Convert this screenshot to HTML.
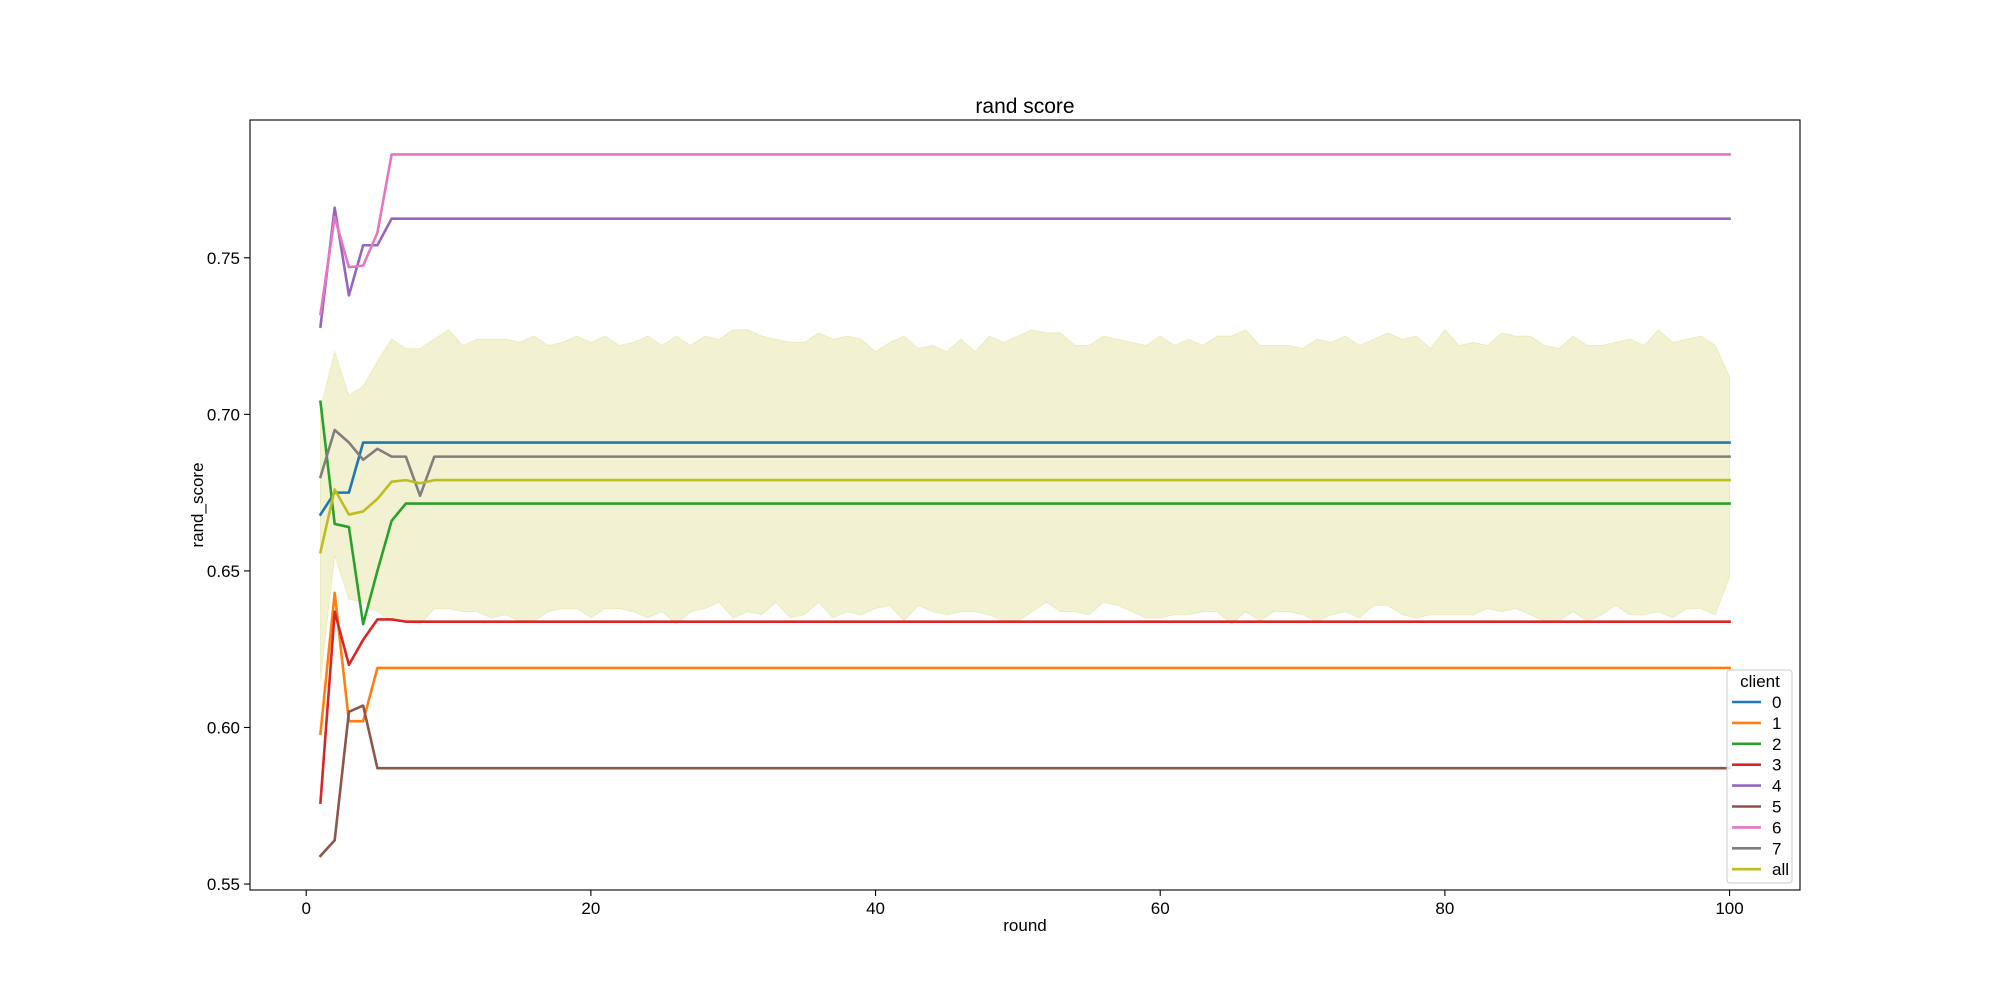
<!DOCTYPE html>
<html><head><meta charset="utf-8"><style>
body{margin:0;background:#fff}
svg{display:block;font-family:"Liberation Sans","DejaVu Sans",sans-serif}
</style></head><body>
<svg id="chart" width="2000" height="1000" viewBox="0 0 2000 1000">
<rect width="2000" height="1000" fill="#fff"/>
<text x="1025" y="113" font-size="21" text-anchor="middle">rand score</text>
<g id="band"></g>
<g id="lines"></g>
<g id="axes"></g>
<text x="1025" y="931" font-size="17" text-anchor="middle">round</text>
<text x="0" y="0" font-size="17" text-anchor="middle" transform="translate(203,505) rotate(-90)">rand_score</text>
<g id="legend"></g>
</svg>
<script>
const xTicks = [0, 20, 40, 60, 80, 100];
const yTicks = [0.55, 0.60, 0.65, 0.70, 0.75];
const yTickLabels = ["0.55", "0.60", "0.65", "0.70", "0.75"];
const seriesNames = ["0", "1", "2", "3", "4", "5", "6", "7", "all"];
const seriesColors = ["#1f77b4","#ff7f0e","#2ca02c","#d62728","#9467bd","#8c564b","#e377c2","#7f7f7f","#bcbd22"];
const r0 = [1,2,3,4,100];
const v0 = [0.668,0.675,0.675,0.691,0.691];
const r1 = [1,2,3,4,5,100];
const v1 = [0.598,0.643,0.602,0.602,0.619,0.619];
const r2 = [1,2,3,4,5,6,7,100];
const v2 = [0.704,0.665,0.664,0.633,0.650,0.666,0.6715,0.6715];
const r3 = [1,2,3,4,5,6,7,100];
const v3 = [0.576,0.637,0.620,0.628,0.6345,0.6345,0.6338,0.6338];
const r4 = [1,2,3,4,5,6,100];
const v4 = [0.728,0.766,0.738,0.754,0.754,0.7625,0.7625];
const r5 = [1,2,3,4,5,100];
const v5 = [0.559,0.564,0.605,0.607,0.587,0.587];
const r6 = [1,2,3,4,5,6,100];
const v6 = [0.732,0.763,0.747,0.7475,0.758,0.783,0.783];
const r7 = [1,2,3,4,5,6,7,8,9,100];
const v7 = [0.680,0.695,0.691,0.6855,0.689,0.6865,0.6865,0.674,0.6865,0.6865];
const rAll = [1,2,3,4,5,6,7,8,9,100];
const vAll = [0.656,0.676,0.668,0.669,0.673,0.6785,0.679,0.678,0.679,0.679];
const bandUpper = [0.702,0.720,0.706,0.709,0.717,0.724,0.721,0.721,0.724,0.727,
0.722,0.724,0.724,0.724,0.723,0.725,0.722,0.723,0.725,0.723,
0.725,0.722,0.723,0.725,0.722,0.725,0.722,0.725,0.724,0.727,
0.727,0.725,0.724,0.723,0.723,0.726,0.724,0.725,0.724,0.720,
0.723,0.725,0.721,0.722,0.720,0.724,0.720,0.725,0.723,0.725,
0.727,0.726,0.726,0.722,0.722,0.725,0.724,0.723,0.722,0.725,
0.722,0.724,0.722,0.725,0.725,0.727,0.722,0.722,0.722,0.721,
0.724,0.723,0.725,0.722,0.724,0.726,0.724,0.725,0.721,0.727,
0.722,0.723,0.722,0.726,0.725,0.725,0.722,0.721,0.725,0.722,
0.722,0.723,0.724,0.722,0.727,0.723,0.724,0.725,0.722,0.712];
const bandLower = [0.615,0.655,0.641,0.640,0.637,0.634,0.634,0.633,0.638,0.638,
0.637,0.637,0.635,0.636,0.634,0.634,0.637,0.638,0.638,0.635,
0.638,0.638,0.637,0.635,0.637,0.633,0.637,0.638,0.640,0.635,
0.637,0.636,0.640,0.635,0.636,0.640,0.635,0.637,0.636,0.638,
0.639,0.634,0.639,0.637,0.636,0.637,0.637,0.636,0.634,0.634,
0.637,0.640,0.637,0.637,0.636,0.640,0.639,0.637,0.635,0.635,
0.636,0.636,0.637,0.637,0.633,0.637,0.634,0.637,0.637,0.636,
0.634,0.636,0.637,0.635,0.639,0.639,0.636,0.635,0.636,0.636,
0.636,0.636,0.638,0.637,0.638,0.636,0.634,0.634,0.637,0.634,
0.636,0.639,0.636,0.636,0.637,0.635,0.638,0.638,0.636,0.648];

const seriesRounds = [r0,r1,r2,r3,r4,r5,r6,r7,rAll];
const seriesValues = [v0,v1,v2,v3,v4,v5,v6,v7,vAll];

const L=250,R=1800,T=120,B=890;
const xMin=-3.95,xMax=104.95,yMin=0.5481,yMax=0.7940;
const X=v=>L+(v-xMin)/(xMax-xMin)*(R-L);
const Y=v=>B-(v-yMin)/(yMax-yMin)*(B-T);
const NS="http://www.w3.org/2000/svg";
function mk(tag,attrs,parent){const e=document.createElementNS(NS,tag);for(const k in attrs)e.setAttribute(k,attrs[k]);parent.appendChild(e);return e;}

// band
const band=document.getElementById('band');
let pts=[];
bandUpper.forEach((v,i)=>pts.push(X(i+1)+','+Y(v)));
for(let i=bandLower.length-1;i>=0;i--)pts.push(X(i+1)+','+Y(bandLower[i]));
const bp=mk('polygon',{points:pts.join(' '),fill:'#bcbd22','fill-opacity':0.2,stroke:'#bcbd22','stroke-opacity':0.2,'stroke-width':1},band);



// lines
const lines=document.getElementById('lines');
seriesValues.forEach((vals,s)=>{
  const p=vals.map((v,i)=>X(seriesRounds[s][i])+','+Y(v)).join(' ');
  const pl=mk('polyline',{points:p,fill:'none',stroke:seriesColors[s],'stroke-width':2.6,'stroke-linejoin':'round','stroke-linecap':'square'},lines);
  
  
});

// axes
const axes=document.getElementById('axes');
const frame=mk('rect',{x:L,y:T,width:R-L,height:B-T,fill:'none',stroke:'#000','stroke-width':1.1},axes);


xTicks.forEach(t=>{
  const x=X(t);
  const tk=mk('line',{x1:x,y1:B,x2:x,y2:B+6,stroke:'#000','stroke-width':1.1},axes);
  
  
  const tx=mk('text',{x:x,y:B+24,'font-size':17,'text-anchor':'middle'},axes);
  tx.textContent=String(t);
  
  
});
yTicks.forEach((t,i)=>{
  const y=Y(t);
  const tk=mk('line',{x1:L-6,y1:y,x2:L,y2:y,stroke:'#000','stroke-width':1.1},axes);
  
  
  const tx=mk('text',{x:L-10,y:y+6,'font-size':17,'text-anchor':'end'},axes);
  tx.textContent=yTickLabels[i];
  
  
});

// legend
const lg=document.getElementById('legend');
const lb=mk('rect',{x:1727,y:670,width:65,height:213,rx:3,fill:'#fff','fill-opacity':0.8,stroke:'#ccc','stroke-width':1},lg);


const lt=mk('text',{x:1760,y:687,'font-size':17,'text-anchor':'middle'},lg);
lt.textContent='client';


seriesNames.forEach((n,i)=>{
  const y=702+i*20.9;
  const g=mk('g',{},lg);
  
  
  mk('line',{x1:1732,y1:y,x2:1761,y2:y,stroke:seriesColors[i],'stroke-width':2.6},g);
  const t=mk('text',{x:1772,y:y+6,'font-size':17},g);
  t.textContent=n;
});
</script>
</body></html>
